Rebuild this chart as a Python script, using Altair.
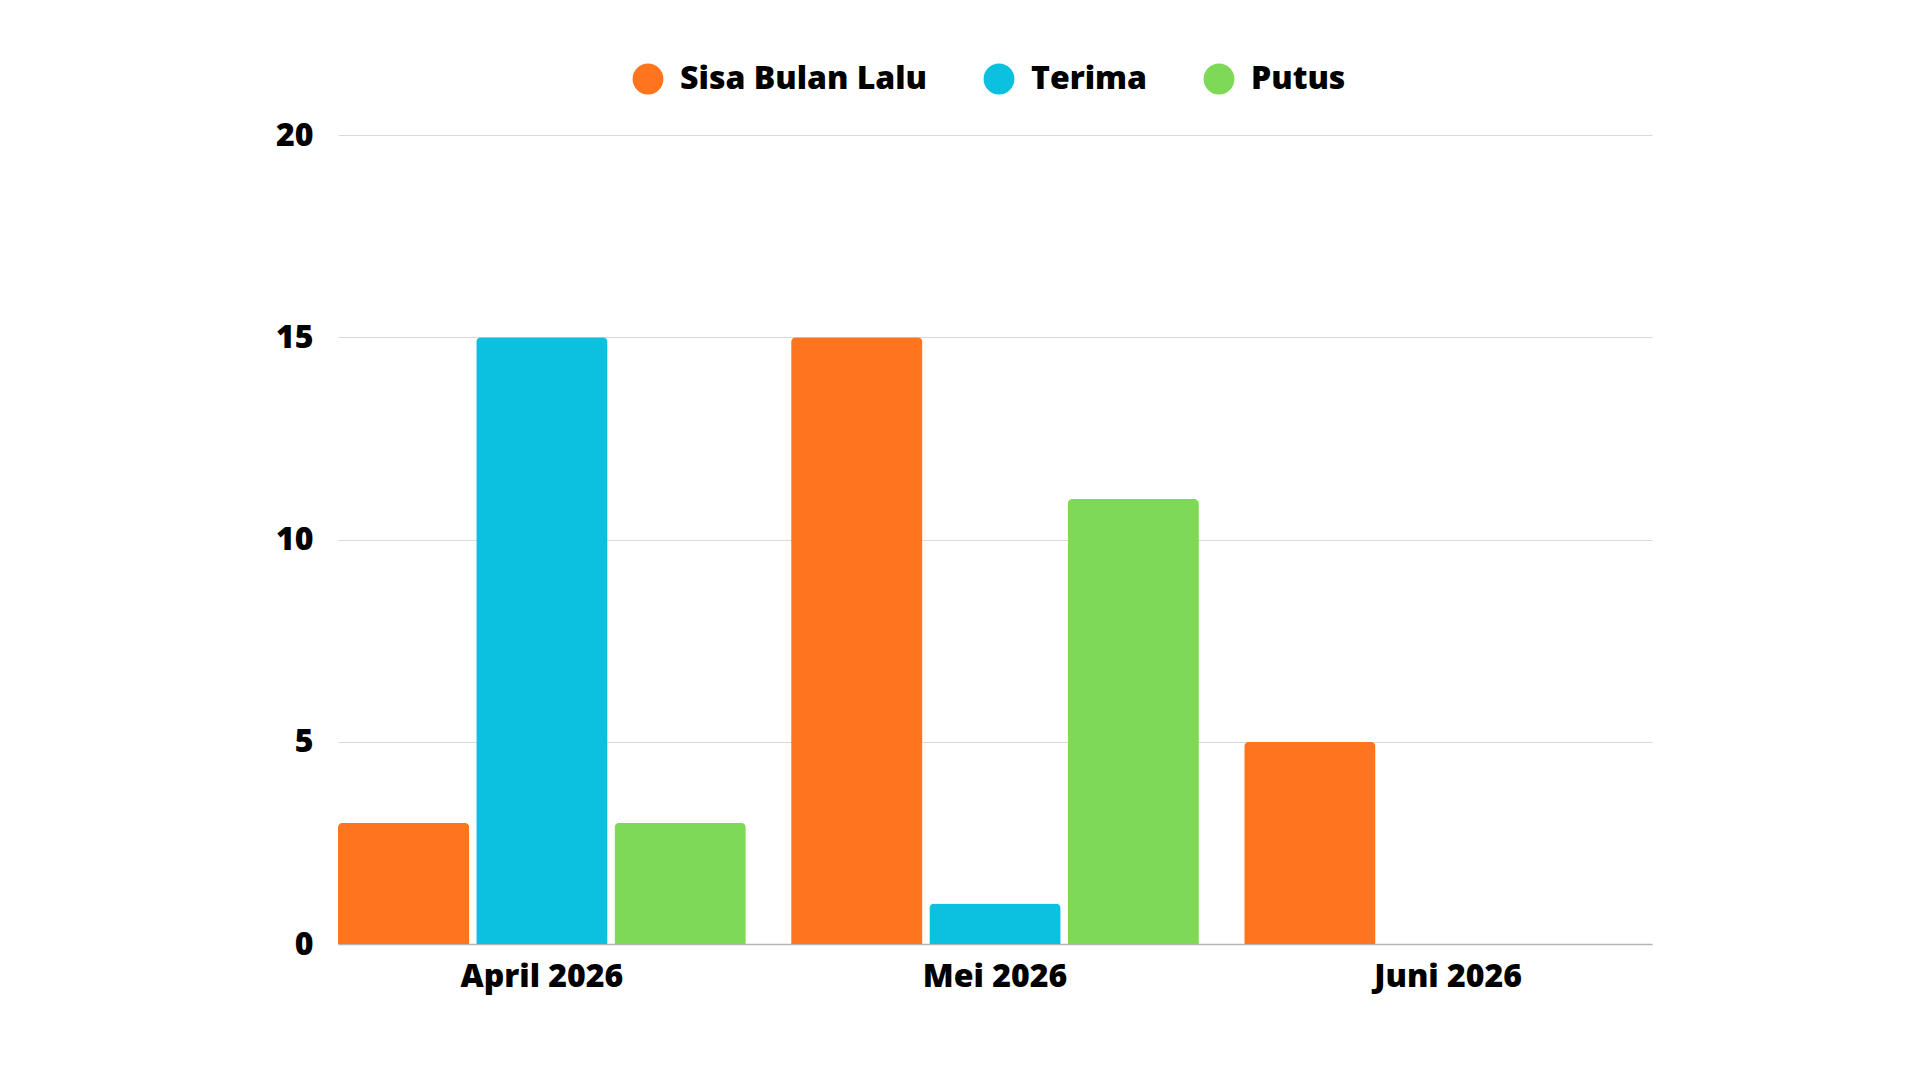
import altair as alt
import pandas as pd

months = ["April 2026", "Mei 2026", "Juni 2026"]
series = ["Sisa Bulan Lalu", "Terima", "Putus"]
sisa_bulan_lalu = [3, 15, 5]
terima = [15, 1, 0]
putus = [3, 11, 0]
colors = ["#FF751F", "#0CC0DF", "#7ED957"]

rows = []
for i, m in enumerate(months):
    for s, vals in zip(series, [sisa_bulan_lalu, terima, putus]):
        rows.append({"Bulan": m, "Seri": s, "Nilai": vals[i]})
df = pd.DataFrame(rows)

FONT = "Open Sans"

chart = alt.Chart(df).mark_bar(
    cornerRadiusTopLeft=5, cornerRadiusTopRight=5
).encode(
    x=alt.X("Bulan:N", sort=months, title=None,
            scale=alt.Scale(paddingInner=0.1, paddingOuter=0),
            axis=alt.Axis(labelAngle=0, ticks=False, domain=True,
                          domainColor="#b5b5b5", domainWidth=1.5,
                          labelPadding=17)),
    xOffset=alt.XOffset("Seri:N", sort=series,
                        scale=alt.Scale(paddingInner=0.05, paddingOuter=0)),
    y=alt.Y("Nilai:Q", title=None,
            scale=alt.Scale(domain=[0, 20], nice=False),
            axis=alt.Axis(values=[0, 5, 10, 15, 20], ticks=False, domain=False,
                          gridColor="#d9d9d9", gridWidth=1, labelPadding=25)),
    color=alt.Color("Seri:N", sort=series,
                    scale=alt.Scale(domain=series, range=colors),
                    legend=alt.Legend(title=None, orient="none", direction="horizontal",
                                      legendX=294, legendY=-72,
                                      symbolType="circle", symbolSize=950,
                                      symbolStrokeWidth=0, symbolOpacity=1,
                                      labelOffset=16, columnPadding=55)),
).properties(
    width=1314, height=809,
    autosize=alt.AutoSizeParams(type="none"),
    padding={"left": 330, "top": 127, "right": 250, "bottom": 120},
).configure_view(stroke=None).configure_axis(
    labelFont=FONT, labelFontSize=32, labelFontWeight=800, labelColor="#000000",
).configure_legend(
    labelFont=FONT, labelFontSize=32, labelFontWeight=800, labelColor="#000000",
    labelLimit=0,
)

chart.save("out.html", embed_options={"renderer": "svg", "actions": False})
